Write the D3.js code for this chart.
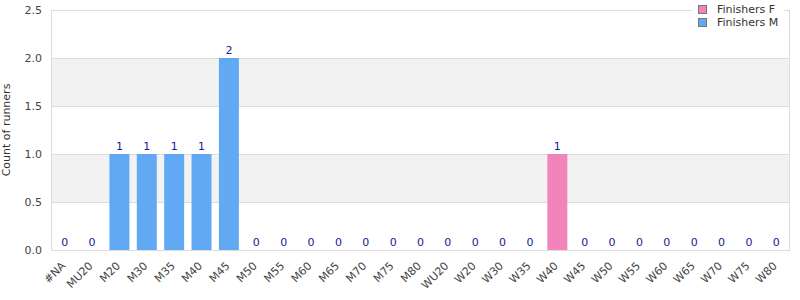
<!DOCTYPE html>
<html>
<head>
<meta charset="utf-8">
<script src="https://cdn.jsdelivr.net/npm/d3@7"></script>
<style>
  body { margin: 0; background: #fff; }
  svg { font-family: "DejaVu Sans", sans-serif; display: block; }
</style>
</head>
<body>
<div class="container"></div>
<script>
const width = 800,
    height = 300,
    marginLeft = 51,
    marginRight = 10,
    marginTop = 10,
    marginBottom = 50;

const categories = ["#NA","MU20","M20","M30","M35","M40","M45","M50","M55","M60","M65","M70","M75","M80",
  "WU20","W20","W30","W35","W40","W45","W50","W55","W60","W65","W70","W75","W80"];
const finishersM = [0,0,1,1,1,1,2,0,0,0,0,0,0,0, 0,0,0,0,0,0,0,0,0,0,0,0,0];
const finishersF = [0,0,0,0,0,0,0,0,0,0,0,0,0,0, 0,0,0,0,1,0,0,0,0,0,0,0,0];
const yTicks = [0, 0.5, 1.0, 1.5, 2.0, 2.5];
const seriesNames = ["Finishers F", "Finishers M"];
const seriesColors = ["#f383bb", "#62a9f4"];

const svg = d3.select(".container").append("svg")
  .attr("width", width)
  .attr("height", height);

const x = d3.scaleBand()
  .domain(categories)
  .range([marginLeft, width - marginRight])
  .paddingInner(0.27)
  .paddingOuter(0.135);

const y = d3.scaleLinear()
  .domain([0, 2.5])
  .range([height - marginBottom, marginTop]);

// alternating bands
svg.append("g").selectAll("rect")
  .data(d3.pairs(yTicks))
  .enter()
  .append("rect")
  .attr("x", marginLeft)
  .attr("width", width - marginRight - marginLeft)
  .attr("y", d => y(d[1]))
  .attr("height", d => y(d[0]) - y(d[1]))
  .attr("fill", (d, i) => i % 2 === 1 ? "#f2f2f2" : "#fff");

// grid lines
svg.append("g").selectAll("line")
  .data(yTicks)
  .enter()
  .append("line")
  .attr("x1", marginLeft)
  .attr("x2", width - marginRight)
  .attr("y1", d => Math.round(y(d)) + 0.5)
  .attr("y2", d => Math.round(y(d)) + 0.5)
  .attr("stroke", "#dcdcdc");

// frame
svg.append("rect")
  .attr("x", marginLeft + 0.5)
  .attr("y", marginTop + 0.5)
  .attr("width", width - marginRight - marginLeft - 1)
  .attr("height", height - marginBottom - marginTop)
  .attr("fill", "none")
  .attr("stroke", "#dcdcdc");

// bars
const stacked = categories.map((c, i) => ({ cat: c, m: finishersM[i], f: finishersF[i] }));
const bars = svg.append("g");
bars.selectAll(".barM")
  .data(stacked.filter(d => d.m > 0))
  .enter()
  .append("rect")
  .attr("x", d => x(d.cat))
  .attr("width", x.bandwidth())
  .attr("y", d => y(d.m))
  .attr("height", d => y(0) - y(d.m))
  .attr("fill", seriesColors[1]);
bars.selectAll(".barF")
  .data(stacked.filter(d => d.f > 0))
  .enter()
  .append("rect")
  .attr("x", d => x(d.cat))
  .attr("width", x.bandwidth())
  .attr("y", d => y(d.m + d.f))
  .attr("height", d => y(d.m) - y(d.m + d.f))
  .attr("fill", seriesColors[0]);

// value labels
svg.append("g").selectAll("text")
  .data(stacked)
  .enter()
  .append("text")
  .attr("x", d => x(d.cat) + x.bandwidth() / 2)
  .attr("y", d => y(d.m + d.f) - 4)
  .attr("text-anchor", "middle")
  .attr("font-size", 11)
  .attr("fill", "#1a1a90")
  .text(d => d.m + d.f);

// y axis
const yAxis = svg.append("g")
  .attr("transform", `translate(${marginLeft},0)`)
  .call(d3.axisLeft(y).tickValues(yTicks).tickFormat(d3.format(".1f")).tickSize(0).tickPadding(9));
yAxis.select(".domain").remove();
yAxis.selectAll("text").attr("font-size", 11).attr("fill", "#444").attr("font-family", "DejaVu Sans, sans-serif");

// x axis labels, rotated
const xLabels = svg.append("g").selectAll("g")
  .data(categories)
  .enter()
  .append("g")
  .attr("transform", d => "translate(" + (x(d) + x.bandwidth() / 2 - 4) + "," + (height - marginBottom + 11) + ")");
xLabels.append("text")
  .attr("transform", "rotate(-45)")
  .attr("text-anchor", "end")
  .attr("dy", "0.7em")
  .attr("font-size", 11)
  .attr("fill", "#444")
  .text(d => d);

// y axis title
svg.append("text")
  .attr("transform", `translate(10,${(marginTop + height - marginBottom) / 2}) rotate(-90)`)
  .attr("text-anchor", "middle")
  .attr("font-size", 11)
  .attr("fill", "#333")
  .text("Count of runners");

// legend
const legend = svg.append("g");
legend.append("rect")
  .attr("x", 692)
  .attr("y", 0)
  .attr("width", 92)
  .attr("height", 33)
  .attr("fill", "#fff");
seriesNames.forEach((name, i) => {
  legend.append("rect")
    .attr("x", 698.5)
    .attr("y", 5.5 + i * 13)
    .attr("width", 8)
    .attr("height", 8)
    .attr("fill", seriesColors[i])
    .attr("stroke", "#777");
  legend.append("text")
    .attr("x", 717)
    .attr("y", 13 + i * 13)
    .attr("font-size", 11)
    .attr("fill", "#333")
    .text(name);
});
</script>
</body>
</html>
